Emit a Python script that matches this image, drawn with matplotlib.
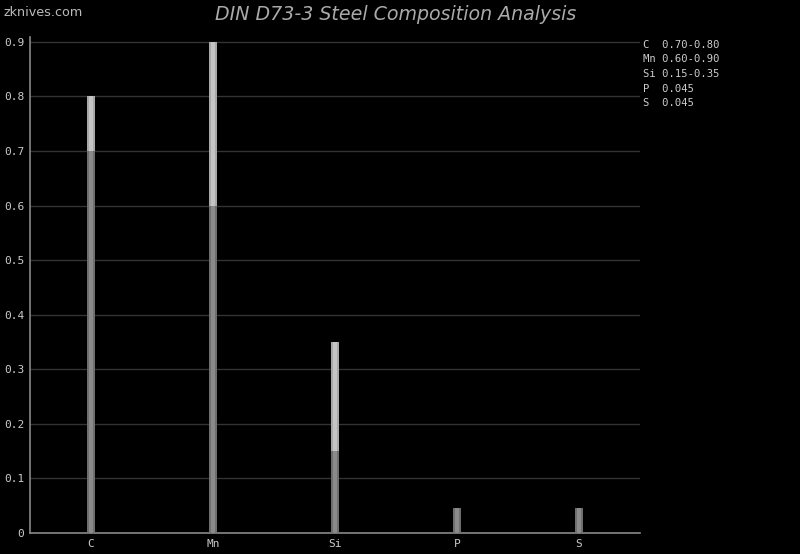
import matplotlib.pyplot as plt
import numpy as np

elements = ["C", "Mn", "Si", "P", "S"]
min_vals = [0.70, 0.60, 0.15, 0.045, 0.045]
max_vals = [0.80, 0.90, 0.35, 0.045, 0.045]
legend_lines = ["C  0.70-0.80", "Mn 0.60-0.90", "Si 0.15-0.35", "P  0.045", "S  0.045"]
yticks = [0, 0.1, 0.2, 0.3, 0.4, 0.5, 0.6, 0.7, 0.8, 0.9]

fig = plt.figure(figsize=(8, 5.54), dpi=100, facecolor="black")
ax = fig.add_axes([30 / 800, 1 - 533 / 554, 610 / 800, (533 - 37) / 554], facecolor="black")

x = np.arange(len(elements))
rng = np.array(max_vals) - np.array(min_vals)

# lower part (min) and upper part (range), with a lighter centre strip
ax.bar(x, min_vals, width=0.058, color="#6e6e6e", zorder=3)
ax.bar(x, min_vals, width=0.026, color="#8a8a8a", zorder=4)
ax.bar(x, rng, bottom=min_vals, width=0.058, color="#a8a8a8", zorder=3)
ax.bar(x, rng, bottom=min_vals, width=0.026, color="#c4c4c4", zorder=4)

ax.set_xlim(-0.5, len(elements) - 0.5)
ax.set_ylim(0, 0.909)
ax.set_xticks(x)
ax.set_xticklabels(elements)
ax.set_yticks(yticks)
ax.set_yticklabels(["0"] + [f"{v:.1f}" for v in yticks[1:]])

ax.grid(axis="y", color="#333333", linewidth=1, zorder=0)
ax.tick_params(colors="#aaaaaa", length=0, labelsize=8, pad=4)
for lbl in ax.get_xticklabels() + ax.get_yticklabels():
    lbl.set_family("DejaVu Sans Mono")
    lbl.set_color("#cccccc")
for side in ["top", "right"]:
    ax.spines[side].set_visible(False)
for side in ["left", "bottom"]:
    ax.spines[side].set_color("#888888")
    ax.spines[side].set_linewidth(1.2)

fig.text(396 / 800, 1 - 15 / 554, "DIN D73-3 Steel Composition Analysis", ha="center", va="center",
         fontsize=13.7, style="italic", color="#aaaaaa")
fig.text(4 / 800, 1 - 12 / 554, "zknives.com", ha="left", va="center", fontsize=9.2, color="#bbbbbb")

for i, line in enumerate(legend_lines):
    fig.text(643 / 800, 1 - (45 + i * 14.5) / 554, line, ha="left", va="center",
             family="DejaVu Sans Mono", fontsize=7.6, color="#cccccc")

fig.savefig("out.png", dpi=100, facecolor="black")
